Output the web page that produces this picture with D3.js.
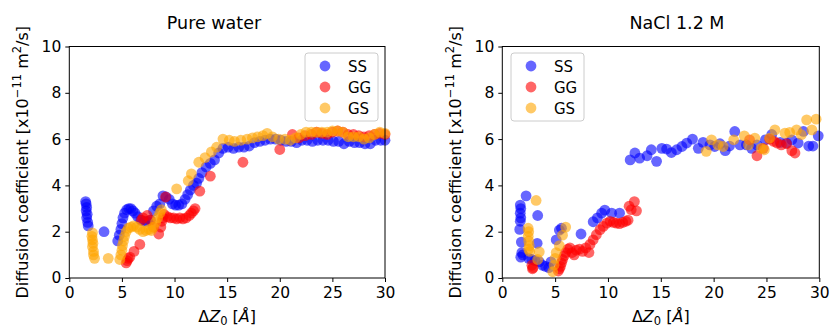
<!DOCTYPE html>
<html>
<head>
<meta charset="utf-8">
<script src="https://cdn.jsdelivr.net/npm/d3@7"></script>
<style>
  body { margin: 0; background: #fff; }
  text { font-family: "DejaVu Sans", sans-serif; fill: #000; }
</style>
</head>
<body>
<div id="viz"></div>
<script>
// two scatter panels: diffusion coefficient vs dZ0

var width = 831, height = 330;

var series = ["SS", "GG", "GS"];
var colors = ["#0000ff", "#ff0000", "#ffa500"];
var xTicks = [0, 5, 10, 15, 20, 25, 30];
var yTicks = [0, 2, 4, 6, 8, 10];

// Pure water
var waterSS_x = [1.55,1.6,1.65,1.6,1.7,1.65,1.75,1.8,3.3,4.6,4.75,4.9,5.0,5.1,5.25,5.45,5.65,5.85,6.05,6.25,6.5,6.8,7.1,7.4,7.7,8.0,8.3,8.6,8.9,9.2,9.5,9.8,10.1,10.4,10.7,11.0,11.25,11.5,11.8,12.1,12.3,12.6,13.0,13.4,13.8,14.2,14.6,15.1,15.6,16.1,16.6,17.1,17.6,18.1,18.6,19.1,19.6,20.1,20.6,21.1,21.6,22.1,22.6,23.1,23.6,24.1,24.6,25.1,25.6,26.1,26.6,27.1,27.6,28.1,28.6,29.1,29.6,30];
var waterSS_y = [3.3,3.2,3.05,2.9,2.75,2.6,2.4,2.25,2.0,1.6,1.85,2.1,2.35,2.6,2.8,2.95,3.0,3.0,2.9,2.8,2.65,2.5,2.45,2.45,2.5,2.9,3.1,3.2,3.55,3.5,3.4,3.2,3.15,3.15,3.2,3.4,3.6,3.8,4.0,4.1,4.3,4.55,4.8,4.95,5.1,5.4,5.6,5.65,5.6,5.65,5.65,5.7,5.85,5.9,5.95,6.0,6.0,5.95,5.9,5.9,5.85,5.95,5.95,5.9,5.95,5.95,5.95,5.9,5.9,5.8,5.9,5.85,5.85,5.8,5.8,5.95,5.95,5.95];
var waterGG_x = [5.4,5.5,5.6,5.75,6.15,6.7,6.85,7.0,7.4,7.7,8.0,8.5,8.7,8.8,8.9,9.0,9.15,9.3,9.6,9.9,10.2,10.5,10.8,11.1,11.4,11.6,11.8,11.95,12.4,13.4,16.5,20.0,21.2,21.8,22.4,23.0,23.5,24.0,24.5,25.0,25.5,26.0,26.5,27.0,27.5,28.0,28.5,29.0,29.5,30];
var waterGG_y = [0.65,0.75,0.85,0.9,1.15,1.45,2.5,2.6,2.7,2.5,2.2,1.9,2.2,2.45,2.6,2.75,3.5,2.65,2.6,2.6,2.55,2.6,2.55,2.6,2.7,2.8,2.9,3.0,3.75,4.4,5.0,5.55,6.2,6.05,6.15,6.2,6.3,6.25,6.2,6.3,6.35,6.3,6.2,6.2,6.15,6.1,6.15,6.2,6.25,6.2];
var waterGS_x = [2.2,2.15,2.2,2.25,2.2,2.3,2.3,2.4,3.7,4.8,4.9,5.0,5.05,5.15,5.25,5.4,5.6,5.85,6.1,6.4,6.7,7.0,7.3,7.6,7.8,8.0,8.2,8.4,8.6,8.75,10.2,11.3,11.6,12.3,12.9,13.5,14.0,14.6,15.2,15.7,16.3,16.9,17.4,17.9,18.4,18.8,19.3,19.9,20.5,21.0,21.5,22.0,22.5,23.0,23.5,24.0,24.5,25.0,25.5,26.0,26.5,27.0,27.5,28.0,28.5,29.0,29.5,30];
var waterGS_y = [1.95,1.8,1.65,1.5,1.35,1.15,1.0,0.85,0.85,0.8,1.0,1.2,1.4,1.6,1.8,2.0,2.15,2.2,2.25,2.2,2.1,2.0,2.05,2.1,2.05,2.2,2.4,2.6,2.8,2.95,3.85,4.2,4.5,5.0,5.2,5.45,5.65,6.0,5.95,5.9,5.95,6.0,6.05,6.1,6.15,6.25,6.1,6.0,6.0,5.95,6.05,6.2,6.3,6.3,6.3,6.3,6.3,6.35,6.35,6.3,6.1,6.1,6.1,6.0,6.05,6.2,6.3,6.25];

// NaCl 1.2 M
var saltSS_x = [1.7,1.75,1.7,1.75,1.7,1.65,1.8,1.85,1.75,1.95,2.25,2.5,2.8,3.1,3.35,3.3,3.5,3.8,4.1,4.4,4.6,5.1,5.4,5.6,7.45,8.6,9.0,9.4,9.7,10.35,11.1,12.1,12.55,13.0,13.7,14.1,14.6,15.1,15.55,16.0,16.5,17.0,17.45,18.0,18.55,19.0,19.65,20.1,20.6,21.1,21.5,22.0,22.5,23.1,23.6,24.1,24.9,25.5,26.3,26.9,27.4,28.0,28.5,29.0,29.4,29.9];
var saltSS_y = [3.15,3.0,2.8,2.6,2.45,2.1,1.55,1.1,0.9,1.0,3.55,0.85,0.8,0.75,2.7,1.5,0.7,0.55,0.5,0.45,0.7,1.65,2.07,2.15,1.9,2.43,2.6,2.8,2.93,2.8,2.8,5.1,5.4,5.18,5.28,5.54,5.04,5.6,5.57,5.42,5.54,5.68,5.83,6.0,5.6,5.86,5.75,5.68,5.8,5.5,5.7,6.33,5.75,5.75,5.6,5.75,5.97,6.2,5.86,5.83,5.97,5.83,6.33,5.7,5.7,6.14];
var saltGG_x = [2.8,2.85,2.9,5.3,5.4,5.5,5.6,5.7,5.85,6.0,6.2,6.4,6.6,6.8,7.0,7.3,7.6,7.9,8.2,8.3,8.6,8.9,9.25,9.55,9.9,10.2,10.5,10.8,11.1,11.4,11.7,11.9,12.0,12.2,12.5,12.7,23.4,24.1,24.7,25.3,25.7,26.0,26.4,26.9,27.4,27.7];
var saltGG_y = [0.55,0.4,0.45,0.3,0.4,0.5,0.65,0.8,0.95,1.1,1.25,1.3,1.1,1.0,1.2,1.25,1.15,1.3,1.1,1.45,1.65,1.87,2.09,2.23,2.37,2.45,2.4,2.37,2.35,2.4,2.45,2.5,3.1,2.95,3.3,2.9,5.97,5.28,5.6,6.0,5.9,5.83,5.75,5.8,5.5,5.4];
var saltGS_x = [2.45,2.5,2.45,2.5,2.55,2.5,2.6,3.2,3.5,3.35,4.77,4.9,5.0,5.1,5.4,5.7,6.0,19.3,19.8,20.4,20.9,21.9,22.9,23.3,23.9,24.5,24.8,25.3,25.8,26.75,27.2,27.85,28.3,28.8,29.3,29.7];
var saltGS_y = [2.15,2.0,1.8,1.6,1.4,1.25,1.15,3.35,1.13,0.8,0.27,0.56,0.85,1.1,1.4,1.85,2.2,5.47,5.97,5.75,5.68,5.97,6.14,5.75,6.04,5.6,5.54,6.04,6.4,6.26,6.29,6.4,6.19,6.83,6.4,6.86];

var panels = [
	{ title: "Pure water", left: 69.3, right: 385, titleX: 214, legendX: 305,
	  xs: [waterSS_x, waterGG_x, waterGS_x], ys: [waterSS_y, waterGG_y, waterGS_y] },
	{ title: "NaCl 1.2 M", left: 502.3, right: 819.3, titleX: 677, legendX: 511,
	  xs: [saltSS_x, saltGG_x, saltGS_x], ys: [saltSS_y, saltGG_y, saltGS_y] }
];
var plotTop = 46.5, plotBottom = 278;
var dotR = 5.4;

var svg = d3.select("#viz")
	.append("svg")
		.attr("width", width)
		.attr("height", height);

svg.append("rect").attr("width", width).attr("height", height).attr("fill", "#fff");

panels.forEach(function (p) {
	var x = d3.scaleLinear().domain([0, 30]).range([p.left, p.right]);
	var y = d3.scaleLinear().domain([0, 10]).range([plotBottom, plotTop]);
	var g = svg.append("g");

	// points
	p.xs.forEach(function (xsArr, si) {
		var pts = xsArr.map(function (v, i) { return [v, p.ys[si][i]]; });
		g.selectAll("circle.s" + si)
			.data(pts)
			.enter()
			.append("circle")
				.attr("class", "s" + si)
				.attr("cx", function (d) { return x(d[0]); })
				.attr("cy", function (d) { return y(d[1]); })
				.attr("r", dotR)
				.attr("fill", colors[si])
				.attr("fill-opacity", 0.6);
	});

	// axes
	var xAxis = g.append("g")
		.attr("transform", "translate(0," + plotBottom + ")")
		.call(d3.axisBottom(x).tickValues(xTicks).tickSize(4).tickPadding(5));
	var yAxis = g.append("g")
		.attr("transform", "translate(" + p.left + ",0)")
		.call(d3.axisLeft(y).tickValues(yTicks).tickSize(4).tickPadding(4));
	[xAxis, yAxis].forEach(function (a) {
		a.select(".domain").remove();
		a.selectAll("text").attr("font-size", 15.5).attr("font-family", "DejaVu Sans");
		a.selectAll("line").attr("stroke", "#000").attr("stroke-width", 1);
	});

	// frame
	g.append("rect")
		.attr("x", p.left).attr("y", plotTop)
		.attr("width", p.right - p.left).attr("height", plotBottom - plotTop)
		.attr("fill", "none").attr("stroke", "#000").attr("stroke-width", 1);

	// title
	g.append("text")
		.text(p.title)
		.attr("x", p.titleX).attr("y", 29)
		.attr("text-anchor", "middle")
		.attr("font-size", 17.5)
		.attr("font-family", "Open Sans");

	// y label
	var yl = g.append("text")
		.attr("transform", "translate(" + (p.left - 41) + "," + ((plotTop + plotBottom) / 2) + ") rotate(-90)")
		.attr("text-anchor", "middle")
		.attr("font-size", 16);
	yl.append("tspan").text("Diffusion coefficient [x10");
	yl.append("tspan").text("\u221211").attr("font-size", 11.5).attr("dy", -7);
	yl.append("tspan").text(" m").attr("dy", 7);
	yl.append("tspan").text("2").attr("font-size", 11.5).attr("dy", -7);
	yl.append("tspan").text("/s]").attr("dy", 7);

	// x label
	var xl = g.append("text")
		.attr("x", (p.left + p.right) / 2).attr("y", 322)
		.attr("text-anchor", "middle")
		.attr("font-size", 16);
	xl.append("tspan").text("\u0394");
	xl.append("tspan").text("Z").attr("font-style", "italic");
	xl.append("tspan").text("0").attr("font-size", 11.5).attr("dy", 3);
	xl.append("tspan").text(" [").attr("dy", -3);
	xl.append("tspan").text("\u00c5").attr("font-style", "italic");
	xl.append("tspan").text("]");

	// legend
	var lg = g.append("g").attr("transform", "translate(" + p.legendX + ",53)");
	lg.append("rect")
		.attr("width", 73).attr("height", 68).attr("rx", 3)
		.attr("fill", "#fff").attr("fill-opacity", 0.8)
		.attr("stroke", "#ccc").attr("stroke-width", 1);
	series.forEach(function (s, i) {
		lg.append("circle")
			.attr("cx", 20).attr("cy", 13 + i * 21).attr("r", dotR)
			.attr("fill", colors[i]).attr("fill-opacity", 0.6);
		lg.append("text")
			.text(s)
			.attr("x", 43).attr("y", 18.5 + i * 21)
			.attr("font-size", 15);
	});
});
</script>
</body>
</html>
